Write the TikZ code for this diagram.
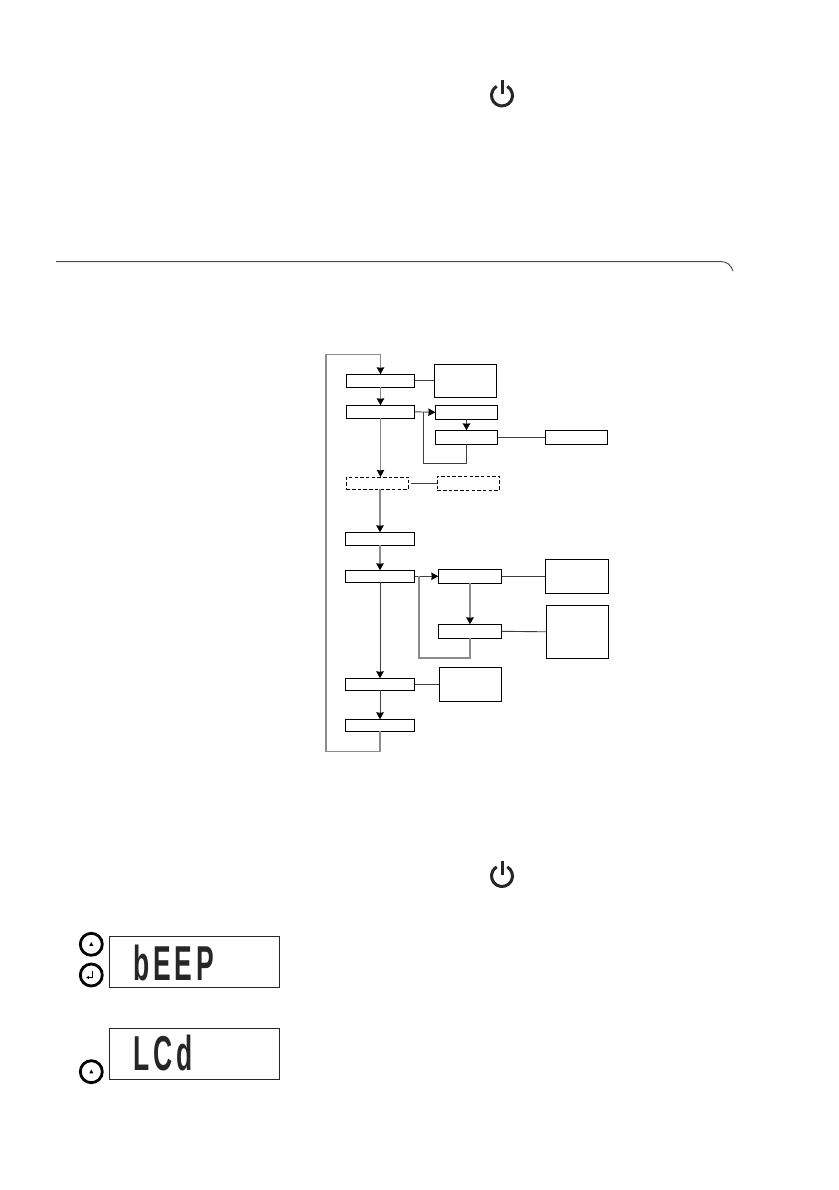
\documentclass[tikz,border=0pt]{standalone}
\usepackage{fontspec}
\setmainfont{Liberation Sans}
\usetikzlibrary{arrows.meta}
\tikzset{
  x=1pt,y=-1pt,
  flowbox/.style={draw=black,line width=0.9pt,inner sep=0pt,outer sep=0pt},
  dashbox/.style={flowbox,dash pattern=on 3.5pt off 2.2pt},
  link/.style={draw=black!75,line width=0.9pt},
  glink/.style={draw=black!45,line width=1.1pt},
  arrowlink/.style={link,-{Stealth[length=7pt,width=7.5pt,inset=0.5pt,color=black]}},
  garrowlink/.style={glink,-{Stealth[length=7pt,width=7.5pt,inset=0.5pt,color=black]}},
  powerline/.style={draw=black!85,line width=3pt},
  lcdbox/.style={draw=black!85,line width=1pt,inner sep=0pt,outer sep=0pt},
  knob/.style={circle,draw=black,line width=2.8pt,minimum size=22pt,inner sep=0pt,outer sep=0pt},
  lcdtext/.style={inner sep=0pt,outer sep=0pt,anchor=base west,xscale=0.54,transform shape,font=\fontsize{49}{50}\selectfont\bfseries\addfontfeature{LetterSpace=15},text=black!85}
}
\begin{document}
\begin{tikzpicture}
\useasboundingbox (0,0) rectangle (838,1190);
% power icons
\node[inner sep=0pt,minimum size=24pt] (pwrA) at (502,95.5) {};
\draw[powerline] (pwrA.center) ++(5.25,-9.1) arc[start angle=-60,end angle=240,radius=10.5];
\draw[powerline] (pwrA.center) ++(0,-1) -- ++(0,-14.5);
\node[inner sep=0pt,minimum size=24pt] (pwrB) at (502,876) {};
\draw[powerline] (pwrB.center) ++(5.25,-9.1) arc[start angle=-60,end angle=240,radius=10.5];
\draw[powerline] (pwrB.center) ++(0,-1) -- ++(0,-14.5);
% header rule
\coordinate (ruleL) at (56,261.5);
\coordinate (ruleM) at (720,261.5);
\coordinate (ruleR) at (733,271);
\draw[draw=black!70,line width=1pt] (ruleL) -- (ruleM) .. controls (727,261.5) and (731,265) .. (ruleR);
% flow boxes
\node[flowbox,minimum width=68.4pt,minimum height=13pt] (a) at (380.5,380.8) {};
\node[flowbox,minimum width=62.4pt,minimum height=33pt] (an) at (465.5,380.8) {};
\node[flowbox,minimum width=68.4pt,minimum height=13pt] (b) at (380.5,411.8) {};
\node[flowbox,minimum width=62.4pt,minimum height=14pt] (c) at (466.5,412.3) {};
\node[flowbox,minimum width=62.4pt,minimum height=14pt] (d) at (466.5,437.3) {};
\node[flowbox,minimum width=62pt,minimum height=14pt] (e) at (576.3,437.3) {};
\node[dashbox,minimum width=62.4pt,minimum height=12.3pt] (f) at (377.5,483.1) {};
\node[dashbox,minimum width=62pt,minimum height=14.3pt] (g) at (468.3,483.1) {};
\node[flowbox,minimum width=69.4pt,minimum height=13pt] (h) at (380,538.8) {};
\node[flowbox,minimum width=69.4pt,minimum height=12pt] (i) at (380,576.3) {};
\node[flowbox,minimum width=63.4pt,minimum height=14pt] (j) at (470,576.3) {};
\node[flowbox,minimum width=63pt,minimum height=34pt] (k) at (576.8,576.3) {};
\node[flowbox,minimum width=63.4pt,minimum height=14pt] (l) at (470,631.3) {};
\node[flowbox,minimum width=62pt,minimum height=53pt] (m) at (577.3,631.8) {};
\node[flowbox,minimum width=69.4pt,minimum height=12pt] (n) at (380,684.3) {};
\node[flowbox,minimum width=62.4pt,minimum height=34pt] (o) at (470.5,684.3) {};
\node[flowbox,minimum width=69.4pt,minimum height=12pt] (p) at (380,725.3) {};
% main chain
\draw[garrowlink] (a.south) -- (b.north);
\draw[garrowlink] (b.south) -- (b.south |- f.north);
\draw[garrowlink] (h.north |- f.south) -- (h.north);
\draw[garrowlink] (h.south) -- (i.north);
\draw[arrowlink] (i.south) -- (n.north);
\draw[arrowlink] (n.south) -- (p.north);
% return loop
\coordinate (loopBL) at (326,751.3);
\coordinate (loopTL) at (326,354.7);
\draw[garrowlink] (p.south) -- (p.south |- loopBL) -- (loopBL) -- (loopTL) -- (a.north |- loopTL) -- (a.north);
% side links
\draw[link] (a.east) -- (an.west);
\draw[arrowlink] (b.east) -- (c.west);
\draw[arrowlink] (c.south) -- (d.north);
\draw[link] (d.east) -- (e.west);
\coordinate (dl) at (423,463.7);
\coordinate (dr) at (423,412);
\draw[link] (d.south) -- (d.south |- dl) -- (dl) -- (dr);
\draw[link,shorten <=2.5pt] (f.east) -- (g.west);
\draw[arrowlink] (i.east) -- (j.west);
\draw[link] (j.east) -- (k.west);
\draw[garrowlink] (j.south) -- (l.north);
\draw[link] (l.east) -- (m.west);
\coordinate (ll) at (419,658);
\coordinate (lr) at (419,576.3);
\draw[glink] (l.south) -- (l.south |- ll) -- (ll) -- (lr);
\draw[link] (n.east) -- (o.west);
% displays
\node[lcdbox,minimum width=170.7pt,minimum height=50.6pt] (lcdA) at (194.6,962) {};
\node[lcdbox,minimum width=170.7pt,minimum height=51pt] (lcdB) at (194.6,1053.8) {};
\node[lcdtext] (beep) at (133,980) {bEEP};
\node[lcdtext] (lcdt) at (133,1070.5) {LCd};
% buttons
\node[knob] (up1) at (91.3,944.3) {};
\node[knob] (ret) at (91.3,975) {};
\node[knob] (up2) at (91.3,1071.7) {};
\fill[black] (91.3,942) -- (93.3,945.8) -- (89.3,945.8) -- cycle;
\fill[black] (91.3,1069.5) -- (93.3,1073.3) -- (89.3,1073.3) -- cycle;
\draw[black,line width=0.8pt] (92.7,970.5) -- (92.7,977.5) -- (88,977.5);
\fill[black] (86.3,977.5) -- (88.8,975.9) -- (88.8,979.1) -- cycle;
\end{tikzpicture}
\end{document}
